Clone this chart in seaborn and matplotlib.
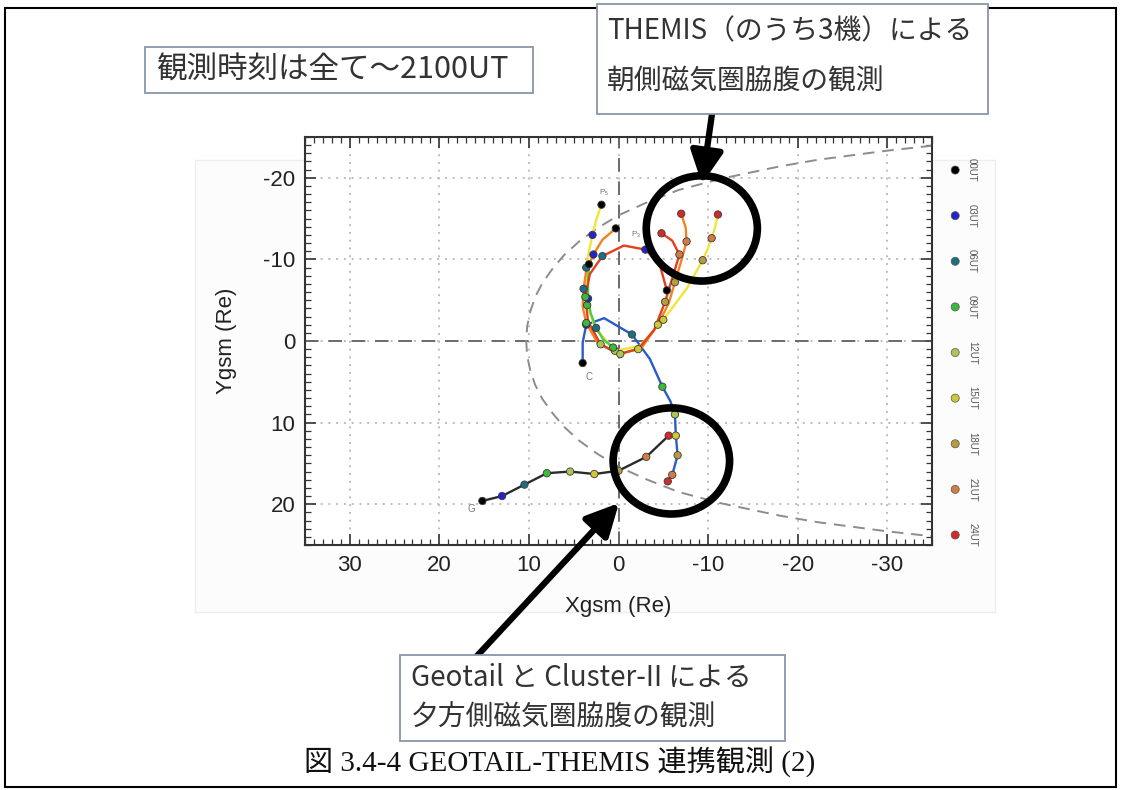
import numpy as np
import pandas as pd
import seaborn as sns
import matplotlib.pyplot as plt
from matplotlib.patches import Rectangle, Ellipse
from matplotlib.ticker import MultipleLocator

W, H = 1121, 790

# 時刻ごとのマーカー色
ut_labels = ['00UT', '03UT', '06UT', '09UT', '12UT', '15UT', '18UT', '21UT', '24UT']
ut_colors = ['#000000', '#2424c8', '#1f6e80', '#3cb83c', '#a9c654',
             '#cfc638', '#b89c3c', '#d27c42', '#cf2b2b']

# 衛星軌道 (時刻[h], Xgsm, Ygsm) -- 図から読み取り
geotail_h = [0, 3, 6, 9, 12, 15, 18, 21, 24]
geotail_x = [15.2, 13.0, 10.5, 8.0, 5.4, 2.7, 0.0, -3.1, -5.6]
geotail_y = [19.6, 19.0, 17.6, 16.2, 16.0, 16.3, 15.9, 14.2, 11.6]

cluster_h = [0, 1.5, 3, 4.5, 6, 7.5, 9, 10.5, 12, 15, 18, 21, 24]
cluster_x = [4.0, 4.0, 3.6, 1.6, -1.5, -3.5, -4.9, -5.8, -6.3, -6.4, -6.6, -6.0, -5.5]
cluster_y = [2.7, 0.2, -2.0, -2.8, -0.8, 2.2, 5.6, 7.4, 9.0, 11.6, 14.0, 16.4, 17.2]

thm_y_h = [0, 1.5, 3, 4.5, 6, 7.5, 9, 10.5, 12, 13.5, 15, 16.5, 18, 19.5, 21, 22.5, 24]
thm_y_x = [1.9, 2.5, 2.9, 3.3, 3.6, 3.7, 3.5, 2.6, 0.4, -2.4, -5.0, -7.6, -9.4, -10.0,
           -10.4, -10.8, -11.1]
thm_y_y = [-16.7, -14.8, -13.0, -11.0, -9.0, -6.8, -4.4, -1.6, 1.2, 0.6, -2.6, -6.4, -9.9,
           -11.4, -12.6, -14.0, -15.5]

thm_g_h = [0, 1.5, 3, 4.5, 6, 7.5, 9]
thm_g_x = [3.3, 3.4, 3.4, 3.1, 2.5, 1.7, 0.6]
thm_g_y = [-9.4, -7.3, -5.2, -3.4, -1.6, -0.2, 0.8]

thm_o_h = [0, 1.5, 3, 4.5, 6, 7.5, 9, 10.5, 12, 13.5, 15, 16.5, 18, 19.5, 21, 22.5, 24]
thm_o_x = [0.3, 1.8, 2.8, 3.6, 3.9, 4.0, 3.6, 2.3, -0.2, -2.6, -4.4, -5.6, -6.3, -7.0,
           -7.6, -7.5, -7.0]
thm_o_y = [-13.8, -12.4, -10.6, -8.6, -6.4, -4.2, -2.2, 0.3, 1.6, 0.8, -2.0, -4.6, -7.2,
           -9.8, -12.2, -13.9, -15.6]

thm_r_h = [0, 1.5, 3, 4.5, 6, 7.5, 9, 10.5, 12, 13.5, 15, 16.5, 18, 19.5, 21, 22.5, 24]
thm_r_x = [-5.4, -4.6, -3.0, -0.6, 1.8, 3.2, 3.7, 3.4, 2.0, 0.0, -2.2, -4.0, -5.2, -6.2,
           -6.8, -6.0, -4.8]
thm_r_y = [-6.2, -9.4, -11.2, -11.7, -10.4, -8.2, -5.4, -2.4, 0.4, 1.6, 1.0, -1.4, -4.8,
           -8.4, -10.6, -12.3, -13.2]

# 磁気圏界面 (破線)
mp_x = [-37.2, -29.8, -22.2, -18.0, -11.5, -6.7, -3.0, 0.0, 2.4, 4.4, 6.1, 7.4, 8.5,
        9.3, 9.85, 10.2, 10.3]
mp_y = [24.2, 23.3, 22.2, 21.4, 19.9, 18.5, 16.9, 15.4, 13.8, 12.2, 10.5, 8.8, 7.1,
        5.4, 3.6, 1.8, 0.0]

x_ticks = [30, 20, 10, 0, -10, -20, -30]
y_ticks = [-20, -10, 0, 10, 20]

tracks = {
    'Geotail': (geotail_h, geotail_x, geotail_y),
    'Cluster': (cluster_h, cluster_x, cluster_y),
    'THEMIS-y': (thm_y_h, thm_y_x, thm_y_y),
    'THEMIS-g': (thm_g_h, thm_g_x, thm_g_y),
    'THEMIS-o': (thm_o_h, thm_o_x, thm_o_y),
    'THEMIS-r': (thm_r_h, thm_r_x, thm_r_y),
}
line_colors = {'Geotail': '#2b2b2b', 'Cluster': '#2a5cc8', 'THEMIS-y': '#efe53a',
               'THEMIS-g': '#4ccc44', 'THEMIS-o': '#f58220', 'THEMIS-r': '#e2401e'}

rows = []
for name, (hh, xx, yy) in tracks.items():
    for h, x, y in zip(hh, xx, yy):
        rows.append({'sc': name, 'hour': h, 'x': x, 'y': y})
df = pd.DataFrame(rows)
marks = df[df['hour'] % 3 == 0].copy()
marks['ut'] = [ut_labels[int(h // 3)] for h in marks['hour']]

mp = pd.DataFrame({'x': mp_x + mp_x[::-1][1:],
                   'y': [-v for v in mp_y] + mp_y[::-1][1:]})

sns.set_style('ticks')
plt.rcParams['font.family'] = ['Liberation Sans', 'Noto Sans CJK JP']
plt.rcParams['axes.unicode_minus'] = False


def fx(px):
    return px / W


def fy(py):
    return 1 - py / H


fig = plt.figure(figsize=(W / 100, H / 100), dpi=100)
fig.patches.append(Rectangle((fx(195), fy(612)), fx(995) - fx(195), fy(160) - fy(612),
                             transform=fig.transFigure, fc='#fcfcfc', ec='#ededed', lw=1, zorder=0))
fig.patches.append(Rectangle((fx(5), fy(787)), fx(1116) - fx(5), fy(8) - fy(787),
                             transform=fig.transFigure, fill=False, ec='black', lw=1.5, zorder=0))

ax = fig.add_axes([fx(305), fy(545), fx(932) - fx(305), fy(137) - fy(545)])
ax.set_zorder(1)
ax.set_facecolor('white')

# 目盛り・グリッド
ax.set_xlim(35, -35)
ax.set_ylim(25, -25)
ax.set_xticks(x_ticks)
ax.set_yticks(y_ticks)
ax.xaxis.set_minor_locator(MultipleLocator(1))
ax.yaxis.set_minor_locator(MultipleLocator(1))
ax.tick_params(which='both', direction='in', top=True, right=True, colors='#333333')
ax.tick_params(which='major', length=8, width=1.2, labelsize=16, labelcolor='#222222', pad=7)
ax.tick_params(which='minor', length=4, width=0.9)
ax.grid(which='major', ls=(0, (1, 3)), color='#bdbdbd', lw=1.4)
for s in ax.spines.values():
    s.set_linewidth(1.5)
    s.set_color('#333333')
ax.axhline(0, ls=(0, (7, 5)), color='#6a6a6a', lw=1.4, zorder=1)
ax.axvline(0, ls=(0, (7, 5)), color='#6a6a6a', lw=1.4, zorder=1)

sns.lineplot(data=mp, x='x', y='y', ax=ax, sort=False, estimator=None, color='#8c8c8c',
             lw=1.4, zorder=1).lines[-1].set_linestyle((0, (6, 4)))

sns.lineplot(data=df, x='x', y='y', hue='sc', palette=line_colors, ax=ax, sort=False,
             estimator=None, lw=1.7, legend=False, zorder=3)
sns.scatterplot(data=marks, x='x', y='y', hue='ut', hue_order=ut_labels, palette=ut_colors,
                ax=ax, s=28, edgecolor='#3a3a3a', linewidth=0.6, legend=False, zorder=4)

# 軌道の始点ラベル
ax.text(16.4, 20.6, 'G', fontsize=7, color='#777777', ha='center', va='center')
ax.text(3.3, 4.4, 'C', fontsize=7, color='#777777', ha='center', va='center')
ax.text(1.6, -18.2, 'P₅', fontsize=6, color='#777777', ha='center', va='center')
ax.text(-1.9, -13.0, 'P₃', fontsize=6, color='#777777', ha='center', va='center')

ax.set_xlabel('Xgsm (Re)', fontsize=16, color='#222222')
ax.set_ylabel('Ygsm (Re)', fontsize=16, color='#222222')
ax.xaxis.set_label_coords(0.5, -0.125)
ax.yaxis.set_label_coords(-0.108, 0.5)

# 時刻の凡例 (右側)
leg_y = np.linspace(0.919, 0.0245, len(ut_labels))
ax.scatter([1.037] * len(ut_labels), leg_y, c=ut_colors, s=34, edgecolors='#555555',
           linewidths=0.5, transform=ax.transAxes, clip_on=False)
for lab, yy in zip(ut_labels, leg_y):
    ax.text(1.056, yy, lab, rotation=270, fontsize=7, color='#555555', ha='left',
            va='center', transform=ax.transAxes)

# 注目領域の円
ax.add_patch(Ellipse((-9.3, -13.8), 12.4, 12.9, fill=False, ec='black', lw=5.5,
                     zorder=6, clip_on=False))
ax.add_patch(Ellipse((-5.9, 14.7), 13.0, 13.0, fill=False, ec='black', lw=5.5,
                     zorder=6, clip_on=False))

# 矢印
arrow_kw = dict(arrowstyle='-|>,head_length=0.9,head_width=0.45', lw=4.5, color='black',
                shrinkA=0, shrinkB=0, mutation_scale=22)
ax.annotate('', xy=(fx(702), fy(184)), xytext=(fx(712), fy(114)), xycoords='figure fraction',
            textcoords='figure fraction', arrowprops=arrow_kw, zorder=7, annotation_clip=False)
ax.annotate('', xy=(fx(619), fy(503)), xytext=(fx(476), fy(657)), xycoords='figure fraction',
            textcoords='figure fraction', arrowprops=arrow_kw, zorder=7, annotation_clip=False)

# テキストボックス
box_kw = dict(transform=fig.transFigure, fill=True, fc='white', ec='#8796aa', lw=1.3, zorder=5)
fig.patches.append(Rectangle((fx(145), fy(93)), fx(533) - fx(145), fy(47) - fy(93), **box_kw))
fig.patches.append(Rectangle((fx(597), fy(114)), fx(988) - fx(597), fy(4) - fy(114), **box_kw))
fig.patches.append(Rectangle((fx(400), fy(741)), fx(785) - fx(400), fy(655) - fy(741), **box_kw))

jp = ['Noto Sans CJK JP', 'DejaVu Sans']
fig.text(fx(156), fy(70), '観測時刻は全て～2100UT', fontsize=22, family=jp, color='#333333',
         ha='left', va='center', zorder=6)
fig.text(fx(607), fy(31), 'THEMIS（のうち3機）による', fontsize=20, family=jp,
         color='#333333', ha='left', va='center', zorder=6)
fig.text(fx(607), fy(82), '朝側磁気圏脇腹の観測', fontsize=20, family=jp, color='#333333',
         ha='left', va='center', zorder=6)
fig.text(fx(411), fy(678), 'Geotail と Cluster-II による', fontsize=20, family=jp,
         color='#333333', ha='left', va='center', zorder=6)
fig.text(fx(411), fy(718), '夕方側磁気圏脇腹の観測', fontsize=20, family=jp, color='#333333',
         ha='left', va='center', zorder=6)

# キャプション
fig.text(fx(560), fy(762), '図 3.4-4 GEOTAIL-THEMIS 連携観測 (2)', fontsize=21,
         family=['Liberation Serif', 'Noto Sans CJK JP'], color='#111111',
         ha='center', va='center')

fig.savefig('out.png', dpi=100)
